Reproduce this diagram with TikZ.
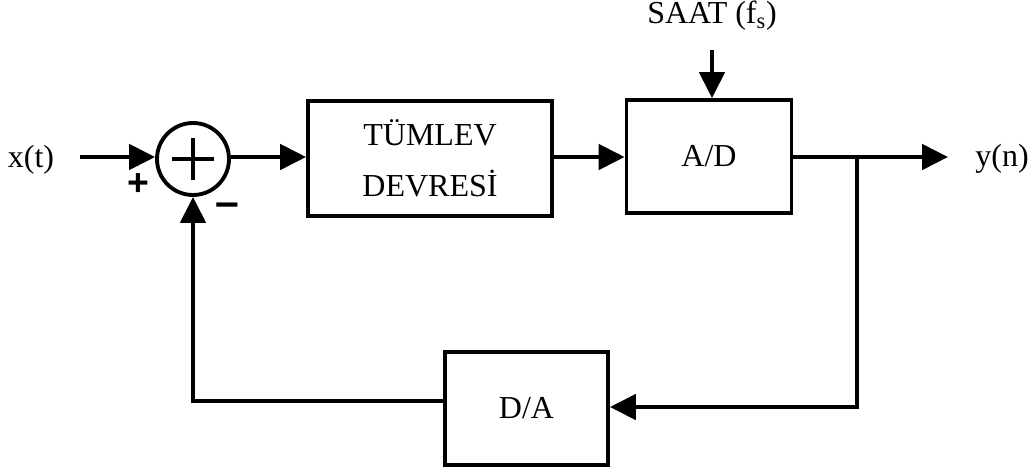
\documentclass[tikz,border=0pt]{standalone}
\usepackage{fontspec}
\setmainfont{Liberation Serif}
\newfontfamily\sgnfont{Liberation Sans}
\usetikzlibrary{arrows.meta,calc}
\begin{document}
\begin{tikzpicture}[x=0.75pt,y=-0.75pt,
  line width=2.9pt,
  blk/.style={draw,line width=2.9pt,inner sep=0pt},
  arr/.style={-{Triangle[length=19.5pt,width=19pt]}},
  lbl/.style={font=\fontsize{24}{38}\selectfont},
  sgn/.style={font=\sgnfont\bfseries\fontsize{28}{30}\selectfont}]
\useasboundingbox (0,0) rectangle (1036,470);
\node[lbl] (x) at (31,160) {x(t)};
\coordinate (xs) at (80,157);
\node[draw,circle,line width=2.9pt,minimum size=72*0.75pt,inner sep=0pt] (sum) at (193,159) {};
\draw ($(sum.center)+(-21,0)$) -- ($(sum.center)+(21,0)$);
\draw ($(sum.center)+(0,-21)$) -- ($(sum.center)+(0,21)$);
\node[sgn] (plus) at (138,185) {+};
\node[sgn,font=\sgnfont\bfseries\fontsize{32}{30}\selectfont] (minus) at (227,210) {–};
\node[blk,minimum width=244*0.75pt,minimum height=115*0.75pt,align=center,lbl] (int) at (430,158.5) {TÜMLEV\\DEVRESİ};
\node[blk,minimum width=165*0.75pt,minimum height=113*0.75pt,lbl] (ad) at (709,156.5) {A/D};
\node[lbl] (saat) at (712,16) {SAAT (f\textsubscript{s})};
\coordinate (clk) at (712,50);
\coordinate (out) at (948,157);
\node[lbl] (y) at (1002,159) {y(n)};
\coordinate (j) at (857,157);
\coordinate (jd) at (857,407);
\node[blk,minimum width=163*0.75pt,minimum height=113*0.75pt,lbl] (da) at (526.5,408.5) {D/A};
\coordinate (fb) at (193,401);
\draw[arr] (xs) -- (sum.west|-xs);
\draw[arr] (sum.east|-xs) -- (int.west|-xs);
\draw[arr] (int.east|-xs) -- (ad.west|-xs);
\draw[arr] (clk) -- (ad.north-|clk);
\draw[arr] (ad.east|-xs) -- (out);
\draw[arr] (j) -- (jd) -- (da.east|-jd);
\draw[arr] (da.west|-fb) -- (fb) -- (sum.south);
\end{tikzpicture}
\end{document}
